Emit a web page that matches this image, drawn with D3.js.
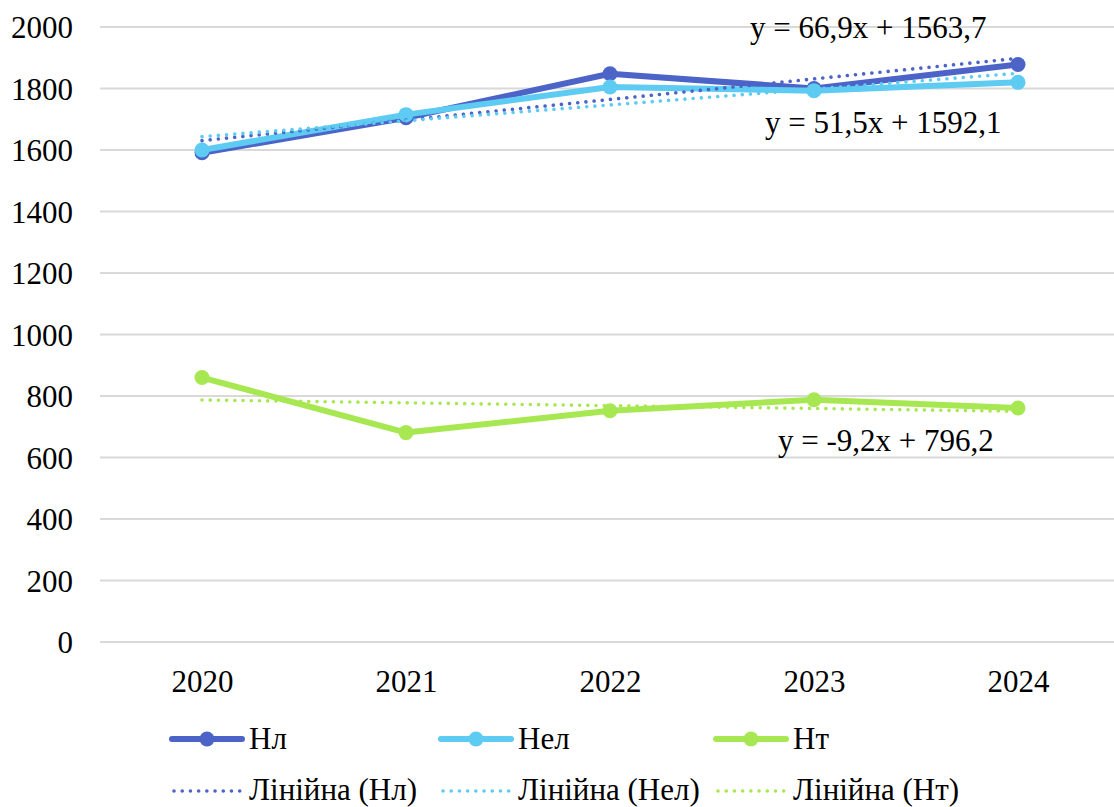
<!DOCTYPE html>
<html><head><meta charset="utf-8">
<script src="https://cdn.jsdelivr.net/npm/d3@7"></script>
<style>body{margin:0;background:#fff}svg{display:block}text{font-family:"Liberation Serif","Tinos","Times New Roman","Nimbus Roman","FreeSerif","DejaVu Serif",serif;fill:#000}</style>
</head><body><svg id="c" width="1114" height="807"></svg>
<script>
const years = ["2020","2021","2022","2023","2024"];
const yTicks = [0,200,400,600,800,1000,1200,1400,1600,1800,2000];
const seriesNames = ["Нл","Нел","Нт"];
const valuesNl  = [1591,1705,1848,1800,1878];
const valuesNel = [1600,1715,1805,1793,1820];
const valuesNt  = [860,681,752,788,761];
const trendSlope = [66.9,51.5,-9.2];
const trendIntercept = [1563.7,1592.1,796.2];
const trendLabels = ["y = 66,9x + 1563,7","y = 51,5x + 1592,1","y = -9,2x + 796,2"];
const trendLegend = ["Лінійна (Нл)","Лінійна (Нел)","Лінійна (Нт)"];
const colors = ["#4C63C8","#5DCBF2","#A7E852"];

const FONT = '"Liberation Serif","Tinos","Times New Roman","Nimbus Roman","FreeSerif","DejaVu Serif",serif';
const allValues = [valuesNl, valuesNel, valuesNt];
const svg = d3.select("#c");
const FS = 31;
const x = d3.scalePoint().domain(years).range([100,1120]).padding(0.5);
const y = d3.scaleLinear().domain([0,2000]).range([642,27]);

svg.append("g").selectAll("line").data(yTicks).join("line")
  .attr("x1",100).attr("x2",1114).attr("y1",d=>y(d)).attr("y2",d=>y(d))
  .attr("stroke","#d9d9d9").attr("stroke-width",2);

const yAxis = d3.axisLeft(y).tickValues(yTicks).tickFormat(d3.format("d")).tickSize(0).tickPadding(0);
const gy = svg.append("g").attr("transform","translate(73,0)").call(yAxis).attr("font-family",null).attr("font-size",null);
gy.select(".domain").remove();
gy.selectAll("text").style("font-family",FONT).attr("font-size",FS).attr("fill","#000").attr("dy","0.34em");

const xAxis = d3.axisBottom(x).tickSize(0).tickPadding(0);
const gx = svg.append("g").attr("transform","translate(0,692)").call(xAxis).attr("font-family",null).attr("font-size",null);
gx.select(".domain").remove();
gx.selectAll("text").style("font-family",FONT).attr("font-size",FS).attr("fill","#000").attr("dy",0);

const line = d3.line().x((d,i)=>x(years[i])).y(d=>y(d));
allValues.forEach((vals,k)=>{
  const g = svg.append("g");
  g.append("path").attr("d",line(vals)).attr("fill","none").attr("stroke",colors[k])
    .attr("stroke-width",6).attr("stroke-linejoin","round").attr("stroke-linecap","round");
  g.selectAll("circle").data(vals).join("circle")
    .attr("cx",(d,i)=>x(years[i])).attr("cy",d=>y(d)).attr("r",7.5).attr("fill",colors[k]);
});

allValues.forEach((vals,k)=>{
  const tv = years.map((yr,i)=>trendIntercept[k]+trendSlope[k]*(i+1));
  svg.append("path").attr("d",line(tv)).attr("fill","none").attr("stroke",colors[k])
    .attr("stroke-width",3.6).attr("stroke-linecap","round").attr("stroke-dasharray","0.01 8.2");
});

const eqPos = [[750,38],[765,133],[778,451]];
trendLabels.forEach((t,k)=>{
  svg.append("text").attr("x",eqPos[k][0]).attr("y",eqPos[k][1]).style("font-family",FONT).attr("font-size",FS).text(t);
});

const legX = [172,441,716];
const legRow1 = 739, legRow2 = 791;
seriesNames.forEach((n,k)=>{
  const lx = legX[k];
  svg.append("line").attr("x1",lx).attr("x2",lx+70).attr("y1",legRow1).attr("y2",legRow1)
    .attr("stroke",colors[k]).attr("stroke-width",6).attr("stroke-linecap","round");
  svg.append("circle").attr("cx",lx+35).attr("cy",legRow1).attr("r",7.5).attr("fill",colors[k]);
  svg.append("text").attr("x",lx+77).attr("y",legRow1+10).style("font-family",FONT).attr("font-size",FS).text(n);
  svg.append("line").attr("x1",lx+2).attr("x2",lx+70).attr("y1",legRow2).attr("y2",legRow2)
    .attr("stroke",colors[k]).attr("stroke-width",3.6).attr("stroke-linecap","round").attr("stroke-dasharray","0.01 8.2");
  svg.append("text").attr("x",lx+77).attr("y",legRow2+9).style("font-family",FONT).attr("font-size",FS).text(trendLegend[k]);
});
</script></body></html>
